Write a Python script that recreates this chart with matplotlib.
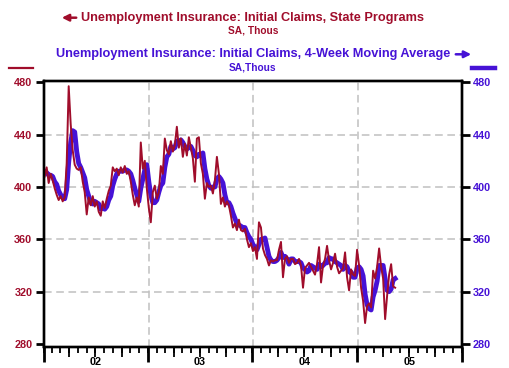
import matplotlib
matplotlib.use('Agg')
import numpy as np
import pandas as pd
import matplotlib.pyplot as plt
import matplotlib.dates as mdates
from matplotlib.lines import Line2D

RED = '#a00d2b'
BLUE = '#4612d6'

# weekly data, Jan 2002 .. May 2005
weeks = pd.date_range('2002-01-05', periods=176, freq='7D')

# initial claims, state programs (thous)
claims = [
    408, 415, 403, 410, 405, 399, 394, 390, 393, 389, 392, 418, 477, 448, 428, 417,
    414, 413, 415, 404, 396, 379, 392, 386, 393, 385, 389, 381, 378, 389, 384, 391,
    397, 401, 415, 412, 414, 409, 415, 411, 416, 410, 412, 404, 394, 386, 392, 385,
    434, 414, 420, 399, 384, 373, 396, 401, 391, 396, 416, 410, 437, 428, 425, 435,
    427, 432, 446, 430, 437, 423, 433, 424, 438, 430, 422, 404, 437, 438, 418, 410,
    391, 403, 400, 401, 395, 405, 423, 410, 387, 392, 385, 389, 386, 378, 369, 372,
    367, 375, 367, 366, 368, 360, 354, 357, 351, 354, 345, 373, 369, 353, 348, 345,
    340, 344, 343, 344, 344, 352, 358, 331, 345, 347, 342, 345, 345, 341, 342, 345,
    340, 323, 338, 340, 342, 339, 336, 333, 341, 354, 327, 340, 345, 355, 344, 337,
    342, 349, 339, 334, 336, 338, 350, 331, 321, 337, 333, 332, 352, 340, 323, 313,
    296, 309, 311, 308, 336, 330, 339, 353, 339, 330, 299, 317, 333, 341, 324, 323,
]

# 4-week moving average (thous)
avg4 = [
    412, 411, 409, 409, 408, 404, 402, 397, 394, 392, 391, 398, 419, 434, 443, 442,
    427, 418, 415, 411, 407, 398, 393, 388, 387, 389, 388, 387, 383, 384, 383, 385,
    390, 393, 401, 406, 410, 412, 412, 412, 413, 413, 412, 410, 405, 399, 394, 389,
    399, 406, 413, 417, 404, 394, 388, 388, 390, 396, 401, 403, 415, 423, 425, 431,
    429, 430, 435, 434, 436, 434, 431, 429, 430, 431, 428, 424, 423, 425, 424, 426,
    414, 406, 401, 399, 400, 400, 406, 408, 406, 403, 394, 388, 388, 385, 380, 376,
    372, 371, 370, 369, 369, 365, 362, 360, 356, 354, 352, 356, 360, 360, 361, 354,
    347, 344, 343, 343, 344, 346, 350, 346, 347, 345, 341, 345, 345, 343, 343, 343,
    342, 338, 337, 335, 336, 340, 339, 338, 337, 341, 339, 340, 342, 342, 346, 345,
    345, 343, 342, 341, 340, 337, 340, 339, 335, 335, 331, 331, 338, 339, 337, 332,
    318, 310, 307, 306, 316, 321, 328, 340, 340, 340, 330, 321, 320, 322, 329, 330,
]

year_starts = pd.to_datetime(['2002-01-01', '2003-01-01', '2004-01-01', '2005-01-01', '2006-01-01'])
label_pos = pd.to_datetime(['2002-07-02', '2003-07-02', '2004-07-02', '2005-07-02'])
year_labels = ['02', '03', '04', '05']
y_ticks = [280, 320, 360, 400, 440, 480]

plt.rcParams['font.family'] = ['Liberation Sans', 'DejaVu Sans']

fig = plt.figure(figsize=(5.09, 3.68), dpi=100)
ax = fig.add_axes([0.0855, 0.0571, 0.8212, 0.7236])

# grid
for v in y_ticks[1:-1]:
    ax.axhline(v, color='#c0c0c0', lw=1.1, ls=(0, (5, 3)), zorder=0)
for d in year_starts[:-1]:
    ax.axvline(d + pd.Timedelta(days=3), color='#c0c0c0', lw=1.1, ls=(0, (5, 3)), zorder=0)

ax.plot(weeks, avg4, color=BLUE, lw=3.5, zorder=2)
ax.plot(weeks, claims, color=RED, lw=1.4, zorder=3)

ax.set_xlim(year_starts[0], year_starts[-1])
ax.set_ylim(277.7, 481.2)

for s in ax.spines.values():
    s.set_linewidth(1.7)

# y axes
ax.set_yticks(y_ticks)
ax.tick_params(axis='y', length=6, width=2, pad=2, labelsize=7.8, labelcolor=RED)
for t in ax.get_yticklabels():
    t.set_fontweight('bold')
ax2 = ax.twinx()
ax2.set_ylim(ax.get_ylim())
ax2.set_yticks(y_ticks)
ax2.tick_params(axis='y', length=6, width=2, pad=2, labelsize=7.8, labelcolor=BLUE)
for t in ax2.get_yticklabels():
    t.set_fontweight('bold')
for s in ax2.spines.values():
    s.set_linewidth(1.7)

# x axis: labels mid-year, monthly minor ticks
ax.set_xticks(label_pos)
ax.set_xticklabels(year_labels, fontsize=7.8, fontweight='bold')
ax.tick_params(axis='x', which='major', length=0, pad=7)
ax.xaxis.set_minor_locator(mdates.MonthLocator())
ax.tick_params(axis='x', which='minor', length=4, width=1.3)

sec = ax.secondary_xaxis('bottom')
sec.set_xticks(year_starts)
sec.set_xticklabels([''] * len(year_starts))
sec.xaxis.set_minor_locator(mdates.MonthLocator(bymonth=[4, 7, 10]))
sec.tick_params(axis='x', which='major', length=11, width=2)
sec.tick_params(axis='x', which='minor', length=7, width=1.3)
sec.spines['bottom'].set_visible(False)

# titles
fig.text(0.497, 0.952, 'Unemployment Insurance: Initial Claims, State Programs',
         color=RED, fontsize=9.2, fontweight='bold', ha='center', va='center')
fig.text(0.497, 0.9166, 'SA, Thous', color=RED, fontsize=7.3, fontweight='bold',
         ha='center', va='center')
fig.text(0.497, 0.8524, 'Unemployment Insurance: Initial Claims, 4-Week Moving Average',
         color=BLUE, fontsize=9.2, fontweight='bold', ha='center', va='center')
fig.text(0.495, 0.816, 'SA,Thous', color=BLUE, fontsize=7.3, fontweight='bold',
         ha='center', va='center')

ax.annotate('', xy=(59, 368 - 17.7), xytext=(79, 368 - 17.7), xycoords='figure pixels',
            textcoords='figure pixels',
            arrowprops=dict(arrowstyle='-|>', color=RED, lw=1.8, mutation_scale=10))
ax.annotate('', xy=(474, 368 - 54.3), xytext=(453, 368 - 54.3), xycoords='figure pixels',
            textcoords='figure pixels',
            arrowprops=dict(arrowstyle='-|>', color=BLUE, lw=1.8, mutation_scale=10))

fig.add_artist(Line2D([9 / 509, 33 / 509], [1 - 67.7 / 368] * 2, color=RED, lw=1.6))
fig.add_artist(Line2D([472 / 509, 495 / 509], [1 - 67.7 / 368] * 2, color=BLUE, lw=3.2))

fig.savefig('out.png', dpi=100)
